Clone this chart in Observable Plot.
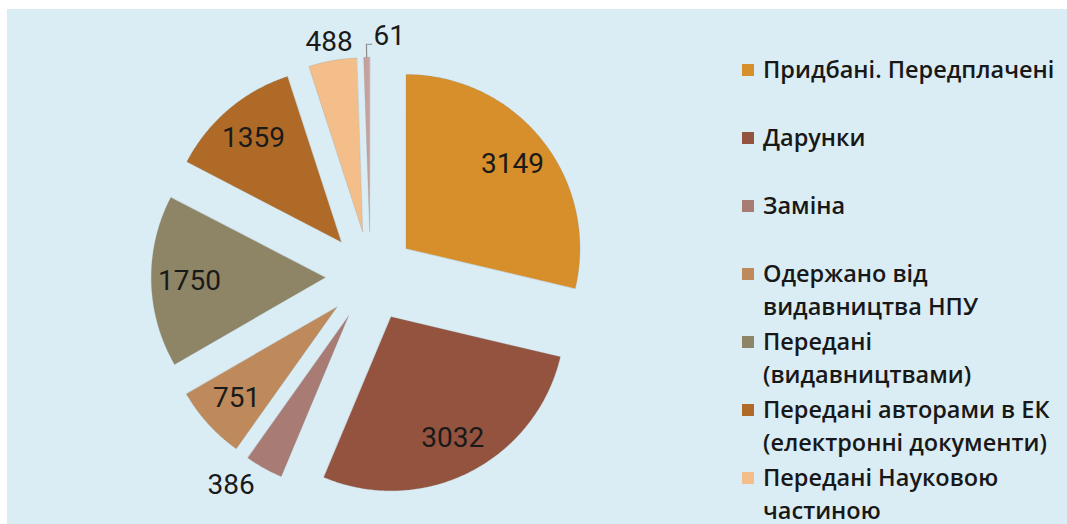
<!DOCTYPE html>
<html>
<head>
<meta charset="utf-8">
<script src="https://cdn.jsdelivr.net/npm/d3@7"></script>
<script src="https://cdn.jsdelivr.net/npm/@observablehq/plot@0.6"></script>
<style>
  html, body { margin: 0; padding: 0; background: #ffffff; }
  #wrap { position: relative; padding: 9px 0 0 7px; width: 1060px; height: 515px; }
  #legend { position: absolute; left: 742px; top: 0; font-family: "Open Sans", sans-serif; font-size: 23.5px; font-weight: 600; color: #181818; }
  .item { position: absolute; left: 0; white-space: nowrap; }
  .sw { position: absolute; left: 0; width: 12px; height: 12px; }
  .lbl { position: absolute; left: 21px; line-height: 33px; }
</style>
</head>
<body>
<div id="wrap"><div id="legend"></div></div>
<script>
// ---- data ----
const categories = [
  "Придбані. Передплачені",
  "Дарунки",
  "Заміна",
  "Одержано від видавництва НПУ",
  "Передані (видавництвами)",
  "Передані авторами в ЕК (електронні документи)",
  "Передані Науковою частиною",
  "Інше"
];
const legendLabels = [
  "Придбані. Передплачені",
  "Дарунки",
  "Заміна",
  "Одержано від\nвидавництва НПУ",
  "Передані\n(видавництвами)",
  "Передані авторами в ЕК\n(електронні документи)",
  "Передані Науковою\nчастиною"
];
const values = [3149, 3032, 386, 751, 1750, 1359, 488, 61];
const colors = ["#D68F2A", "#93533F", "#A87B75", "#BE8A5B", "#8E8567", "#B06A27", "#F3BE8A", "#C7A19D"];

// ---- layout (pixels) ----
const W = 1060, H = 515;
const R = 174;            // pie radius in px
const cx = 363, cy = 267; // pie centre in px
const explode = 0.26;     // explosion distance in radius units

const rows = categories.map((c, i) => ({cat: c, value: values[i]}));
const arcs = d3.pie().sort(null).value(d => d.value)(rows);
const total = d3.sum(values);

const dir = a => [Math.sin(a), -Math.cos(a)];
const slicePts = [];
const labels = [];
const leaders = [];
arcs.forEach((a, i) => {
  const mid = (a.startAngle + a.endAngle) / 2;
  const [mx, my] = dir(mid);
  const ox = mx * explode, oy = my * explode;
  slicePts.push({cat: a.data.cat, x: ox, y: oy});
  const n = Math.max(2, Math.ceil((a.endAngle - a.startAngle) / 0.01));
  for (let k = 0; k <= n; k++) {
    const t = a.startAngle + (a.endAngle - a.startAngle) * k / n;
    const [ux, uy] = dir(t);
    slicePts.push({cat: a.data.cat, x: ox + ux, y: oy + uy});
  }
  const share = a.data.value / total;
  if (share > 0.05) {
    labels.push({x: ox + mx * 0.78, y: oy + my * 0.78, text: String(a.data.value), anchor: "middle"});
  } else if (share > 0.01) {
    const lx = ox + mx * 1.11, ly = oy + my * 1.11;
    const anchor = mx < -0.3 ? "end" : mx > 0.3 ? "start" : "middle";
    labels.push({x: lx, y: ly, text: String(a.data.value), anchor});
  } else {
    const p1 = [ox + mx * 1.0, oy + my * 1.0];
    const p2 = [ox + mx * 1.075, oy + my * 1.075];
    const p3 = [p2[0] + 0.03, p2[1]];
    leaders.push({cat: a.data.cat, x: p1[0], y: p1[1]}, {cat: a.data.cat, x: p2[0], y: p2[1]}, {cat: a.data.cat, x: p3[0], y: p3[1]});
    labels.push({x: p3[0] + 0.01, y: p3[1] - 0.045, text: String(a.data.value), anchor: "start"});
  }
});

const textStart = labels.filter(d => d.anchor === "start");
const textMid = labels.filter(d => d.anchor === "middle");
const textEnd = labels.filter(d => d.anchor === "end");
const tf = {fontFamily: "Roboto, sans-serif", fontSize: 28, fill: "#1a1a1a", stroke: "none"};

const chart = Plot.plot({
  width: W,
  height: H,
  margin: 0,
  style: {background: "#DBEDF4", overflow: "visible"},
  x: {domain: [-cx / R, (W - cx) / R], range: [0, W], axis: null},
  y: {domain: [-cy / R, (H - cy) / R], range: [0, H], axis: null},
  color: {domain: categories, range: colors},
  marks: [
    Plot.line(slicePts, {x: "x", y: "y", z: "cat", fill: "cat", stroke: "#8a8a8a", strokeOpacity: 0.35, strokeWidth: 0.7, curve: "linear-closed"}),
    Plot.line(leaders, {x: "x", y: "y", z: "cat", stroke: "#8c8c8c", strokeWidth: 1.2}),
    Plot.text(textMid, {x: "x", y: "y", text: "text", textAnchor: "middle", ...tf}),
    Plot.text(textStart, {x: "x", y: "y", text: "text", textAnchor: "start", ...tf}),
    Plot.text(textEnd, {x: "x", y: "y", text: "text", textAnchor: "end", ...tf})
  ]
});
document.getElementById("wrap").insertBefore(chart, document.getElementById("legend"));

// legend
const legend = document.getElementById("legend");
legendLabels.forEach((name, i) => {
  const yc = 70 + i * 68;
  const item = document.createElement("div");
  item.className = "item";
  item.style.top = (yc) + "px";
  const sw = document.createElement("div");
  sw.className = "sw";
  sw.style.background = colors[i];
  sw.style.top = "-6px";
  const lb = document.createElement("div");
  lb.className = "lbl";
  lb.style.top = "-17px";
  lb.innerHTML = name.split("\n").join("<br>");
  item.appendChild(sw);
  item.appendChild(lb);
  legend.appendChild(item);
});
</script>
</body>
</html>
